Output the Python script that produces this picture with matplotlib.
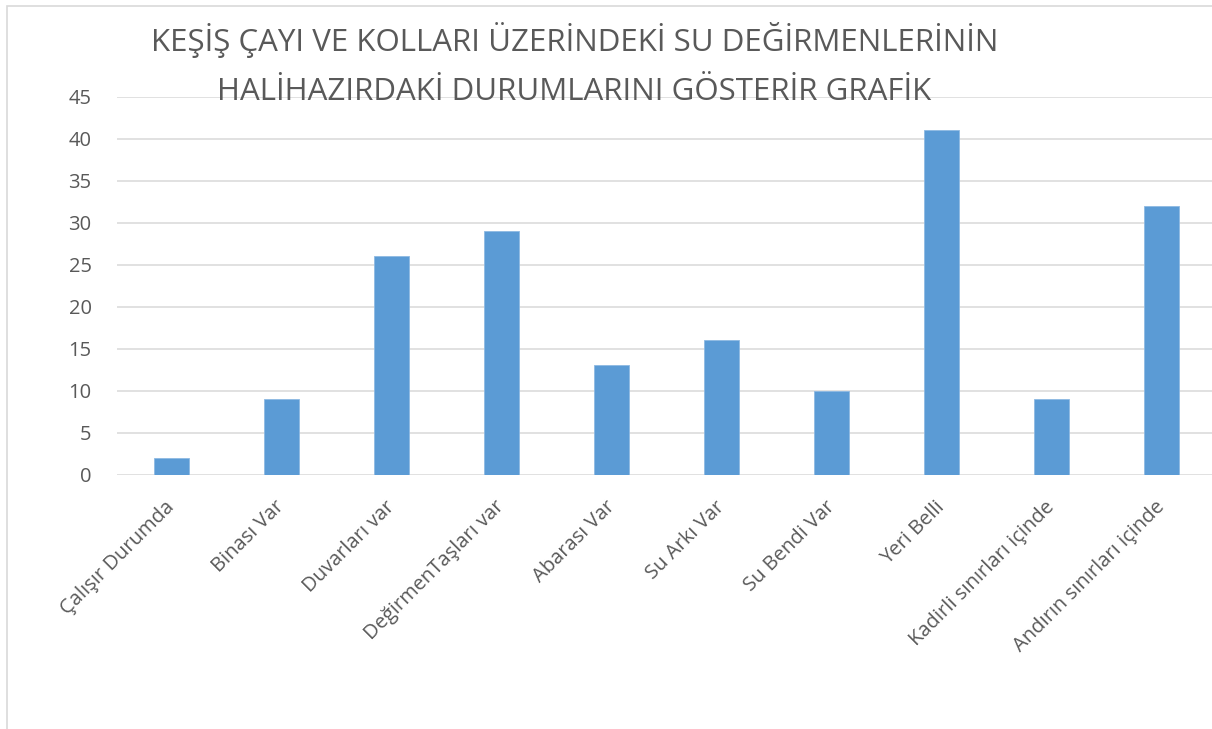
import matplotlib
matplotlib.use("Agg")
import matplotlib.pyplot as plt
from matplotlib.patches import Rectangle

categories = ["Çalışır Durumda", "Binası Var", "Duvarları var", "DeğirmenTaşları var",
              "Abarası Var", "Su Arkı Var", "Su Bendi Var", "Yeri Belli",
              "Kadirli sınırları içinde", "Andırın sınırları içinde"]
values = [2, 9, 26, 29, 13, 16, 10, 41, 9, 32]
yticks = [0, 5, 10, 15, 20, 25, 30, 35, 40, 45]
title_line1 = "KEŞİŞ ÇAYI VE KOLLARI ÜZERİNDEKİ SU DEĞİRMENLERİNİN"
title_line2 = "HALİHAZIRDAKİ DURUMLARINI GÖSTERİR GRAFİK"

W, H = 1212, 729
plt.rcParams['font.family'] = ['Open Sans', 'DejaVu Sans']
fig = plt.figure(figsize=(W / 100, H / 100), dpi=100)

# chart border (partially cropped)
fig.patches.append(Rectangle((7 / W, -0.1), 1.2, (H - 6) / H + 0.1, transform=fig.transFigure,
                             fill=False, edgecolor="#D9D9D9", linewidth=1.2))

left, right = 116.5, 1217.0
top, bottom = 96.7, 474.7
ax = fig.add_axes([left / W, (H - bottom) / H, (right - left) / W, (bottom - top) / H])
ax.set_zorder(1)
ax.patch.set_alpha(0)

x = list(range(len(categories)))
ax.bar(x, values, width=0.318, color="#5B9BD5", edgecolor="#8DB9E3", linewidth=0.6, zorder=3)
ax.set_xlim(-0.5, len(categories) - 0.5)
ax.set_ylim(0, 45)
ax.set_yticks(yticks)
ax.yaxis.grid(True, color="#D9D9D9", linewidth=1.1, zorder=0)
ax.set_axisbelow(True)
for s in ax.spines.values():
    s.set_visible(False)
ax.tick_params(axis='y', length=0, pad=18, labelsize=14.5, labelcolor="#595959")
ax.tick_params(axis='x', length=0, pad=21, labelsize=14.5, labelcolor="#595959")
ax.set_xticks(x)
ax.set_xticklabels(categories, rotation=45, ha='right', va='center', rotation_mode='anchor')

fig.text(575 / W, 1 - 50.7 / H, title_line1, ha='center', va='baseline',
         fontsize=22.5, color="#595959")
fig.text(574 / W, 1 - 100 / H, title_line2, ha='center', va='baseline',
         fontsize=22.5, color="#595959")

fig.savefig("out.png", dpi=100)
